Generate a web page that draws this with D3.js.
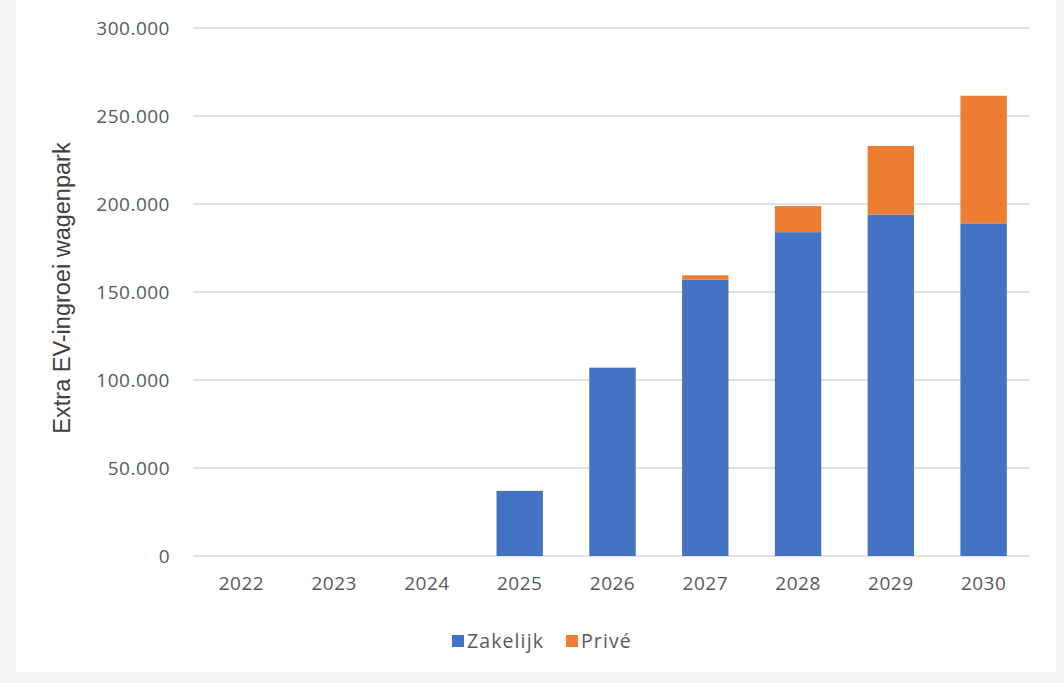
<!DOCTYPE html>
<html><head><meta charset="utf-8">
<script src="https://cdn.jsdelivr.net/npm/d3@7"></script>
<style>
body{margin:0;background:#fff;}
svg{display:block;}
</style></head>
<body>
<svg id="c" width="1064" height="683"></svg>
<script>
const years = ["2022","2023","2024","2025","2026","2027","2028","2029","2030"];
const zakelijk = [0,0,0,37000,107000,157000,184000,194000,189000];
const prive = [0,0,0,0,0,2500,14800,39000,72500];
const yTicks = [0,50000,100000,150000,200000,250000,300000];
const seriesNames = ["Zakelijk","Privé"];
const colors = ["#4472C4","#ED7D31"];

const svg = d3.select("#c");
svg.append("rect").attr("x",0).attr("y",0).attr("width",1064).attr("height",683).attr("fill","#f3f3f3");
svg.append("rect").attr("x",16).attr("y",0).attr("width",1040).attr("height",672).attr("fill","#fff");

const L=195,R=1030,T=28,B=556;
const x = d3.scaleBand().domain(years).range([L,R]).paddingInner(0.5).paddingOuter(0.25);
const y = d3.scaleLinear().domain([0,300000]).range([B,T]);
const fmt = v => v===0 ? "0" : d3.format(",")(v).replace(/,/g,".");
const tickFont = "Open Sans, sans-serif";

svg.append("g").selectAll("line").data(yTicks).join("line")
  .attr("x1",L-2).attr("x2",R).attr("y1",d=>y(d)).attr("y2",d=>y(d))
  .attr("stroke","#d9d9d9").attr("stroke-width",1.3);

const yAxis = d3.axisLeft(y).tickValues(yTicks).tickFormat(fmt).tickSize(0).tickPadding(25);
const ya = svg.append("g").attr("transform",`translate(${L},0)`).call(yAxis);
ya.select(".domain").remove();
ya.selectAll("text").attr("font-family",tickFont).attr("font-size",19).attr("fill","#595959").attr("letter-spacing",0.5);

const stackData = years.map((yr,i)=>({year:yr,Zakelijk:zakelijk[i],"Privé":prive[i]}));
const stack = d3.stack().keys(seriesNames)(stackData);
svg.append("g").selectAll("g").data(stack).join("g")
  .attr("fill",(d,i)=>colors[i])
  .selectAll("rect").data(d=>d).join("rect")
  .attr("x",d=>x(d.data.year))
  .attr("width",x.bandwidth())
  .attr("y",d=>y(d[1]))
  .attr("height",d=>Math.max(0,y(d[0])-y(d[1])));

const xAxis = d3.axisBottom(x).tickSize(0).tickPadding(21);
const xa = svg.append("g").attr("transform",`translate(0,${B})`).call(xAxis);
xa.select(".domain").remove();
xa.selectAll("text").attr("font-family",tickFont).attr("font-size",19).attr("fill","#595959").attr("letter-spacing",0.5);

svg.append("text").attr("transform",`translate(70,${(T+B)/2-4}) rotate(-90)`)
  .attr("text-anchor","middle").attr("font-family","Liberation Sans, Arial, sans-serif")
  .attr("font-size",23.5).attr("fill","#404040").text("Extra EV-ingroei wagenpark");

const legX=[452,566];
const leg = svg.append("g");
seriesNames.forEach((n,i)=>{
  leg.append("rect").attr("x",legX[i]).attr("y",635).attr("width",12).attr("height",12).attr("fill",colors[i]);
  leg.append("text").attr("x",legX[i]+15).attr("y",648).attr("font-family",tickFont)
    .attr("font-size",19.5).attr("letter-spacing",1.1).attr("fill","#595959").text(n);
});
</script>
</body></html>
